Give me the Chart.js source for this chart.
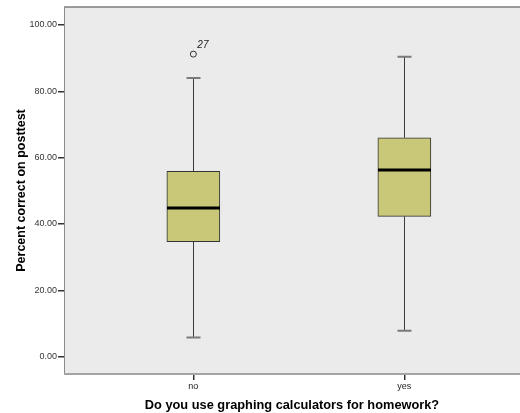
<!DOCTYPE html>
<html>
<head>
<meta charset="utf-8">
<script src="https://cdn.jsdelivr.net/npm/chart.js@4/dist/chart.umd.min.js"></script>
<style>
html,body{margin:0;padding:0;background:#fff;}
#wrap{width:520px;height:413px;}
</style>
</head>
<body>
<div id="wrap"><canvas id="c" width="520" height="413"></canvas></div>
<script>
// ---- data ----
const categories = ["no", "yes"];
const whiskerLow = [5.8, 7.8];
const q1 = [34.7, 42.3];
const median = [44.8, 56.3];
const q3 = [55.9, 66.0];
const whiskerHigh = [84.0, 90.4];
const outlierCategory = [1];
const outlierValue = [91.2];
const outlierLabel = ["27"];
const yTicks = [0, 20, 40, 60, 80, 100];

const boxData = categories.map((c, i) => ({x: i + 1, y: [q1[i], q3[i]]}));
const outlierData = outlierValue.map((v, i) => ({x: outlierCategory[i], y: v}));

const boxPlugin = {
  id: 'boxPlugin',
  beforeDraw(chart) {
    const {ctx, chartArea: a} = chart;
    ctx.save();
    ctx.fillStyle = '#ebebeb';
    ctx.fillRect(a.left, a.top, a.right - a.left, a.bottom - a.top);
    ctx.restore();
  },
  afterDatasetsDraw(chart) {
    const {ctx, chartArea: a, scales: {x, y}} = chart;
    ctx.save();
    const half = 26.5;
    const capHalf = 7;
    categories.forEach((c, i) => {
      const cx = Math.round(x.getPixelForValue(i + 1)) + 0.5;
      ctx.strokeStyle = '#3a3a3a';
      ctx.lineWidth = 1;
      ctx.beginPath();
      ctx.moveTo(cx, y.getPixelForValue(q3[i]));
      ctx.lineTo(cx, y.getPixelForValue(whiskerHigh[i]));
      ctx.moveTo(cx, y.getPixelForValue(q1[i]));
      ctx.lineTo(cx, y.getPixelForValue(whiskerLow[i]));
      ctx.stroke();
      ctx.strokeStyle = '#7a7a7a';
      ctx.lineWidth = 2;
      ctx.beginPath();
      ctx.moveTo(cx - capHalf, y.getPixelForValue(whiskerHigh[i]));
      ctx.lineTo(cx + capHalf, y.getPixelForValue(whiskerHigh[i]));
      ctx.moveTo(cx - capHalf, y.getPixelForValue(whiskerLow[i]));
      ctx.lineTo(cx + capHalf, y.getPixelForValue(whiskerLow[i]));
      ctx.stroke();
      ctx.strokeStyle = '#000';
      ctx.lineWidth = 3;
      ctx.beginPath();
      ctx.moveTo(cx - half, y.getPixelForValue(median[i]));
      ctx.lineTo(cx + half, y.getPixelForValue(median[i]));
      ctx.stroke();
    });
    ctx.fillStyle = '#222';
    ctx.font = 'italic 10px "Liberation Sans", Arial, sans-serif';
    ctx.textAlign = 'left';
    ctx.textBaseline = 'middle';
    outlierValue.forEach((v, i) => {
      const px = x.getPixelForValue(outlierCategory[i]);
      const py = y.getPixelForValue(v);
      ctx.fillText(outlierLabel[i], px + 4, py - 9);
    });
    ctx.strokeStyle = '#7c7c7c';
    ctx.lineWidth = 1.5;
    ctx.beginPath();
    ctx.moveTo(a.left, a.top);
    ctx.lineTo(a.right, a.top);
    ctx.stroke();
    ctx.strokeStyle = '#8a8a8a';
    ctx.lineWidth = 1;
    ctx.beginPath();
    ctx.moveTo(a.left + 0.5, a.top);
    ctx.lineTo(a.left + 0.5, a.bottom);
    ctx.stroke();
    ctx.strokeStyle = '#a4a4a4';
    ctx.lineWidth = 2;
    ctx.beginPath();
    ctx.moveTo(a.left, a.bottom);
    ctx.lineTo(a.right, a.bottom);
    ctx.stroke();
    ctx.restore();
  }
};

new Chart(document.getElementById('c'), {
  type: 'bar',
  data: {
    datasets: [
      {
        type: 'bar',
        data: boxData,
        backgroundColor: '#c8c878',
        borderColor: '#333',
        borderWidth: 1,
        borderSkipped: false,
        barThickness: 53,
        order: 2
      },
      {
        type: 'scatter',
        data: outlierData,
        pointStyle: 'circle',
        pointRadius: 3,
        backgroundColor: 'rgba(0,0,0,0)',
        borderColor: '#333',
        borderWidth: 1,
        order: 1
      }
    ]
  },
  options: {
    responsive: false,
    animation: false,
    layout: {autoPadding: false, padding: {top: 7, right: 0, left: 0, bottom: 0}},
    plugins: {legend: {display: false}, tooltip: {enabled: false}},
    scales: {
      x: {
        type: 'linear',
        offset: false,
        min: 0.387,
        max: 2.548,
        afterBuildTicks(s) { s.ticks = categories.map((c, i) => ({value: i + 1})); },
        afterFit(s) { s.height = 39; s.paddingRight = 0; s.paddingLeft = 0; },
        ticks: {
          callback: (v) => categories[v - 1],
          font: {family: '"Liberation Sans", Arial, sans-serif', size: 9},
          color: '#222',
          padding: 1,
          maxRotation: 0,
          autoSkip: false
        },
        grid: {offset: false, drawOnChartArea: false, drawTicks: true, tickLength: 6, color: '#333', lineWidth: 1.5},
        border: {display: false},
        title: {
          display: true,
          text: 'Do you use graphing calculators for homework?',
          font: {family: '"Liberation Sans", Arial, sans-serif', size: 12.8, weight: 'bold'},
          color: '#000',
          padding: {top: 1, bottom: 0}
        }
      },
      y: {
        type: 'linear',
        min: -5.2,
        max: 105.4,
        afterBuildTicks(s) { s.ticks = yTicks.map(v => ({value: v})); },
        afterFit(s) { s.width = 64; },
        ticks: {
          callback: (v) => v.toFixed(2),
          font: {family: '"Liberation Sans", Arial, sans-serif', size: 9},
          color: '#333',
          padding: 1
        },
        grid: {drawOnChartArea: false, drawTicks: true, tickLength: 6, color: '#333', lineWidth: 1.5},
        border: {display: false},
        title: {
          display: true,
          text: 'Percent correct on posttest',
          font: {family: '"Liberation Sans", Arial, sans-serif', size: 12.5, weight: 'bold'},
          color: '#000',
          padding: {top: 14, bottom: 0}
        }
      }
    }
  },
  plugins: [boxPlugin]
});
</script>
</body>
</html>
